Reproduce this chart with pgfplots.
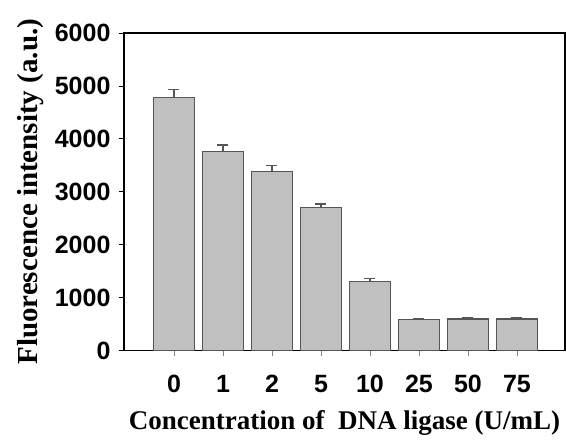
\documentclass[border=0pt]{standalone}
\usepackage{fontspec}
\setmainfont{Liberation Serif}
\newfontfamily\arialfont{Liberation Sans}
\usepackage{pgfplots}
\pgfplotsset{compat=1.18}
\definecolor{barfill}{RGB}{192,192,192}
\definecolor{barline}{RGB}{85,85,85}
\begin{document}
\begin{tikzpicture}
\begin{axis}[
  scale only axis,
  width=441pt, height=317.5pt,
  xmin=-1.02, xmax=7.98,
  ymin=0, ymax=6000,
  ytick={0,1000,2000,3000,4000,5000,6000},
  xtick={0,1,2,3,4,5,6,7},
  xticklabels={0,1,2,5,10,25,50,75},
  xtick pos=bottom, ytick pos=left,
  tick align=outside,
  major tick length=5pt,
  tick style={black, line width=0.8pt},
  x tick style={draw=gray},
  axis line style={black, line width=1.6pt},
  /pgf/number format/assume math mode=true,
  scaled y ticks=false,
  yticklabel style={font=\arialfont\bfseries\fontsize{25}{25}\selectfont, /pgf/number format/1000 sep={}, xshift=-5pt},
  xticklabel style={font=\arialfont\bfseries\fontsize{25}{25}\selectfont, yshift=-16pt},
  xlabel={Concentration of\ \ DNA ligase (U/mL)},
  ylabel={Fluorescence intensity (a.u.)},
  xlabel style={font=\bfseries\fontsize{27}{27}\selectfont, yshift=-11pt},
  ylabel style={font=\bfseries\fontsize{29}{29}\selectfont, yshift=4pt},
  clip=false,
]
\addplot[ybar, bar width=41pt, fill=barfill, draw=barline, line width=1.2pt,
  error bars/.cd, y dir=plus, y explicit,
  error bar style={barline, line width=1.2pt},
  error mark options={barline, line width=1.2pt, mark size=5.5pt, rotate=90}]
  coordinates {
  (0,4780) +- (0,145)
  (1,3758) +- (0,127)
  (2,3380) +- (0,113)
  (3,2700) +- (0,70)
  (4,1301) +- (0,56)
  (5,590) +- (0,22)
  (6,595) +- (0,28)
  (7,595) +- (0,22)
  };
\end{axis}
\path (current axis.south west) ++(-124pt,-88.5pt) coordinate (bbsw);
\path (current axis.north east) ++(1pt,33pt) coordinate (bbne);
\path (bbsw) rectangle (bbne);
\end{tikzpicture}
\end{document}
